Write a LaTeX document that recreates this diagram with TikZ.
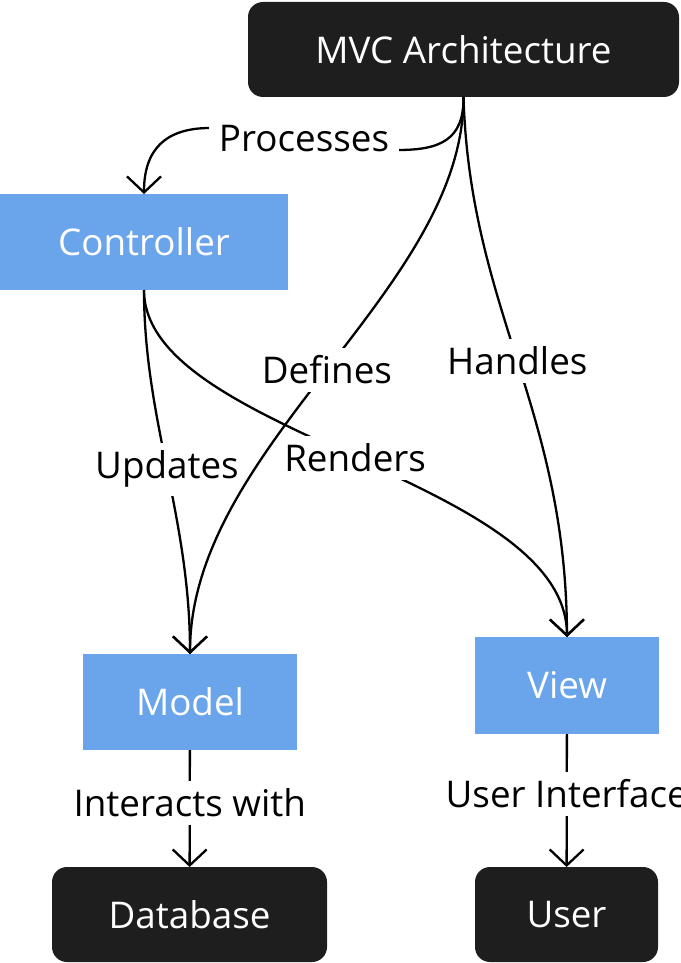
\documentclass[tikz,border=0pt]{standalone}
\usepackage{fontspec}
\setmainfont{Open Sans}
\usetikzlibrary{arrows.meta}
\definecolor{boxblue}{HTML}{6AA4EB}
\definecolor{boxdark}{HTML}{1E1E1E}

\begin{document}
\begin{tikzpicture}[x=1pt,y=-1pt,
    font=\fontsize{36.8}{40}\selectfont,
    dark/.style={fill=boxdark,text=white,rounded corners=15pt,outer sep=0pt},
    part/.style={fill=boxblue,text=white,outer sep=0pt},
    lbl/.style={fill=white,inner xsep=10pt,inner ysep=8pt},
    arr/.style={line width=2.3pt,-{Straight Barb[length=16pt,width=34pt]}}]
    \useasboundingbox (0,0) rectangle (680,963);
    \node[dark,minimum width=431pt,minimum height=95pt] (mvc) at (463.5,49.5) {MVC Architecture};
    \node[part,minimum width=288pt,minimum height=96pt] (ctrl) at (144,242) {Controller};
    \node[part,minimum width=214pt,minimum height=96pt] (model) at (190,702) {Model};
    \node[part,minimum width=184pt,minimum height=97pt] (view) at (567,685.5) {View};
    \node[dark,minimum width=275pt,minimum height=95pt] (db) at (189.5,914.5) {Database};
    \node[dark,minimum width=183pt,minimum height=95pt] (user) at (566.5,914.5) {User};
    \draw[arr] (mvc.south) .. controls (464,140) and (440,150) .. (398,150)
        -- node[lbl] {Processes} (210,128) .. controls (165,128) and (144,150) .. (ctrl.north);
    \draw[arr] (mvc.south) .. controls (470,310) and (566,408) .. node[lbl] {Handles} (view.north);
    \draw[arr] (ctrl.south) .. controls (144,420) and (190,517) .. node[lbl] {Updates} (model.north);
    \draw[arr] (ctrl.south) .. controls (144,435) and (566,477) .. node[lbl] {Renders} (view.north);
    \draw[arr] (mvc.south) .. controls (464,290) and (190,446) .. node[lbl] {Defines} (model.north);
    \draw[arr] (model) -- node[lbl,pos=0.45] {Interacts with} (db);
    \draw[arr] (view) -- node[lbl,pos=0.45] {User Interface} (user);
\end{tikzpicture}
\end{document}
